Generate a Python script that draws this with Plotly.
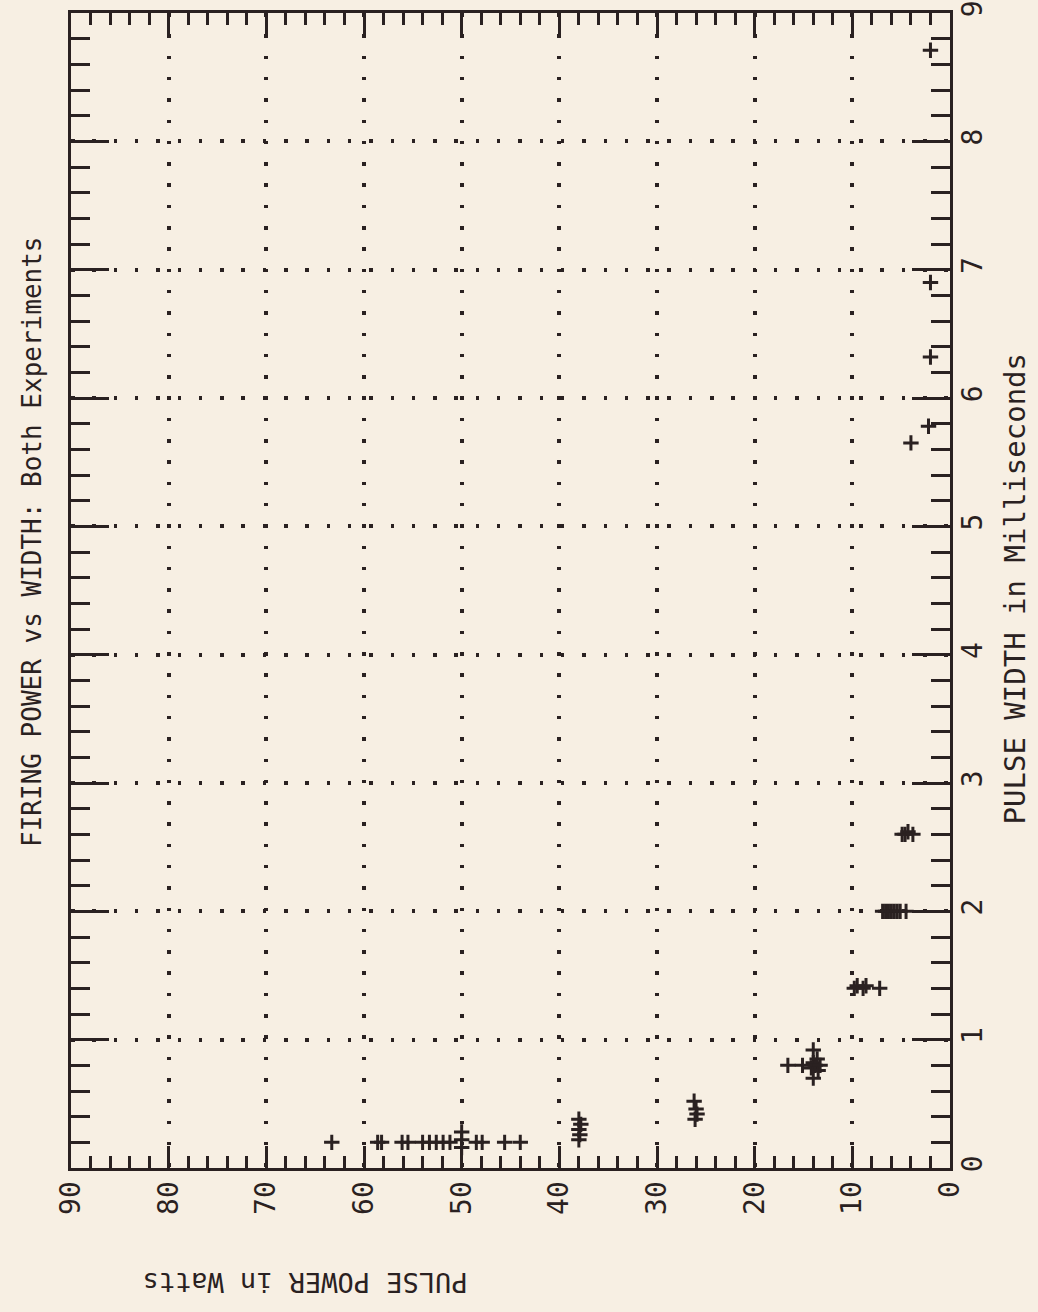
import plotly.graph_objects as go

# Data read from the (rotated) reference: pulse power (W) vs pulse width (ms)
power = [63.3, 58.6, 58.2, 56.1, 55.5, 54.0, 53.3, 52.6, 51.9, 51.2,
         50.0, 50.0, 50.0, 48.5, 47.9, 45.6, 44.0,
         38.0, 37.9, 38.0, 37.8, 38.0,
         26.2, 26.0, 25.9, 26.1,
         16.6, 15.1, 14.2, 14.0, 13.8, 13.5, 13.6, 14.0, 14.0, 13.3,
         9.8, 9.5, 8.9, 8.6, 7.2,
         6.9, 6.6, 6.3, 6.0, 5.7, 5.4, 5.1, 4.5,
         4.9, 4.6, 4.3, 3.8,
         4.0, 2.2, 2.0, 2.0, 2.0]
width = [0.20, 0.20, 0.20, 0.20, 0.20, 0.20, 0.20, 0.20, 0.20, 0.20,
         0.16, 0.22, 0.28, 0.20, 0.20, 0.20, 0.20,
         0.22, 0.26, 0.30, 0.34, 0.38,
         0.52, 0.46, 0.42, 0.38,
         0.80, 0.80, 0.78, 0.82, 0.80, 0.76, 0.85, 0.92, 0.70, 0.80,
         1.40, 1.42, 1.40, 1.42, 1.40,
         2.00, 2.00, 2.00, 2.00, 2.00, 2.00, 2.00, 2.00,
         2.60, 2.60, 2.62, 2.60,
         5.65, 5.78, 6.32, 6.90, 8.71]

power_ticks = [0, 10, 20, 30, 40, 50, 60, 70, 80, 90]
width_ticks = [0, 1, 2, 3, 4, 5, 6, 7, 8, 9]

title_text = "FIRING POWER vs WIDTH: Both Experiments"
width_title = "PULSE WIDTH in Milliseconds"
power_title = "PULSE POWER in Watts"

INK = "#2a2121"
PAPER = "#f7efe3"
FONT = "DejaVu Sans Mono"

fig = go.Figure()
fig.add_trace(go.Scatter(
    x=power, y=width, mode="markers",
    marker=dict(symbol="cross-thin", size=11, line=dict(color=INK, width=3)),
    showlegend=False, hoverinfo="skip"))

fig.update_layout(
    template="none",
    width=1038, height=1312,
    margin=dict(l=71, r=88, t=13, b=144, autoexpand=False),
    paper_bgcolor=PAPER, plot_bgcolor=PAPER,
    font=dict(family=FONT, color=INK, size=27),
    showlegend=False,
)

common = dict(
    ticks="inside", tickwidth=3, tickcolor=INK,
    showline=True, linewidth=3, linecolor=INK, mirror="ticks",
    showgrid=True, gridcolor=INK, gridwidth=3.5, griddash="3.5px,17.8px",
    zeroline=False, automargin=False, tickangle=-90,
    tickfont=dict(family=FONT, size=28, color=INK),
)

fig.update_xaxes(
    range=[90, 0], tickmode="array", tickvals=power_ticks,
    ticktext=[str(v) for v in power_ticks],
    ticklen=22, ticklabelstandoff=-1,
    minor=dict(dtick=2, tick0=0, ticks="inside", ticklen=12, tickwidth=2.5,
               tickcolor=INK, showgrid=False),
    **common,
)
fig.update_yaxes(
    range=[0, 9], side="right", tickmode="array", tickvals=width_ticks,
    ticktext=[str(v) for v in width_ticks],
    ticklen=38, ticklabelstandoff=-5,
    minor=dict(dtick=0.2, tick0=0, ticks="inside", ticklen=19, tickwidth=2.5,
               tickcolor=INK, showgrid=False),
    **common,
)

fig.add_annotation(text=title_text, xref="paper", yref="paper",
                   x=-0.0444, y=0.542, xanchor="center", yanchor="middle",
                   textangle=-90, showarrow=False,
                   font=dict(family=FONT, size=26, color=INK))
fig.add_annotation(text=width_title, xref="paper", yref="paper",
                   x=1.074, y=0.501, xanchor="center", yanchor="middle",
                   textangle=-90, showarrow=False,
                   font=dict(family=FONT, size=29, color=INK))
fig.add_annotation(text=power_title, xref="paper", yref="paper",
                   x=0.266, y=-0.0996, xanchor="center", yanchor="middle",
                   textangle=180, showarrow=False,
                   font=dict(family=FONT, size=27, color=INK))

fig.write_html("out.html",
               config={"displayModeBar": False, "displaylogo": False},
               post_script="document.body.style.margin='0';document.body.style.background='%s';" % PAPER)
